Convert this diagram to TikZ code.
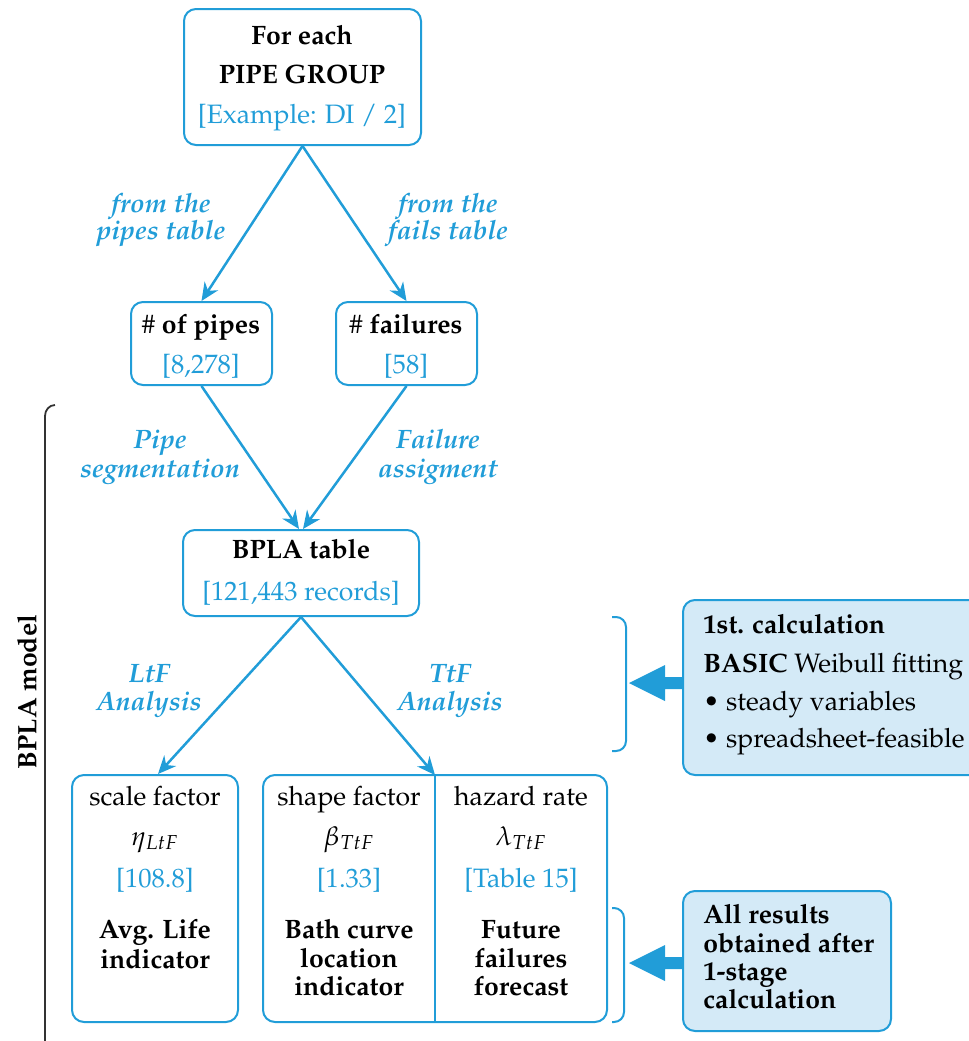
\documentclass[tikz,border=0pt]{standalone}
\usepackage[T1]{fontenc}
\usepackage{mathpazo}
\usetikzlibrary{arrows.meta,fit}
\definecolor{mblue}{RGB}{33,157,216}
\definecolor{lblue}{RGB}{212,234,247}
\definecolor{bracecol}{RGB}{50,50,50}
\begin{document}
\begin{tikzpicture}[x=0.5pt,y=-0.5pt,
  box/.style={draw=mblue, line width=1pt, rounded corners=6pt, inner sep=0pt},
  infobox/.style={box, fill=lblue},
  txt/.style={anchor=base, inner sep=0pt, font=\fontsize{13.3}{15}\selectfont},
  btxt/.style={txt, font=\fontsize{13.3}{15}\selectfont\bfseries},
  vtxt/.style={txt, text=mblue},
  ltxt/.style={txt, anchor=base west},
  bltxt/.style={btxt, anchor=base west},
  lbl/.style={txt, text=mblue, font=\fontsize{13.3}{15}\selectfont\bfseries\itshape},
  conn/.style={draw=mblue, line width=1.25pt, -{Stealth[length=9pt,width=8pt]}},
  bracket/.style={draw=mblue, line width=1pt, rounded corners=5pt},
  blockarrow/.style={fill=mblue, draw=none}]
\useasboundingbox (0,0) rectangle (969,1041);
\clip (0,0) rectangle (969,1041);

% boxes
\node[box, fit={(184,9) (421,145)}] (top) {};
\node[box, fit={(131,302) (272,385)}] (pipes) {};
\node[box, fit={(336,302) (477,385)}] (fails) {};
\node[box, fit={(183,530) (419,616)}] (bpla) {};
\node[box, fit={(72,775) (238,1022)}] (scale) {};
\node[box, fit={(263,775) (607,1022)}] (shapehaz) {};
\coordinate (divtop) at (435,775);
\coordinate (divbot) at (435,1022);
\draw[draw=mblue, line width=1pt] (divtop) -- (divbot);
\node[infobox, fit={(683,600) (1000,775)}] (calc1) {};
\node[infobox, fit={(683,891) (891,1031)}] (calc2) {};

% texts in boxes
\node[btxt] (t1) at (302,44) {For each};
\node[btxt] (t2) at (302,83) {PIPE GROUP};
\node[vtxt] (t3) at (302,123) {[Example: DI / 2]};

\node[txt] (p1) at (201,333) {\# \textbf{of pipes}};
\node[vtxt] (p2) at (201,373) {[8,278]};
\node[txt] (f1) at (406,333) {\# \textbf{failures}};
\node[vtxt] (f2) at (406,373) {[58]};

\node[btxt] (b1) at (301,558) {BPLA table};
\node[vtxt] (b2) at (301,600) {[121,443 records]};

\node[txt] (s1) at (155,805) {scale factor};
\node[txt] (s2) at (155,845) {$\eta_{LtF}$};
\node[vtxt] (s3) at (155,887) {[108.8]};
\node[btxt] (s4) at (155,938) {Avg. Life};
\node[btxt] (s5) at (155,968) {indicator};

\node[txt] (h1) at (349,805) {shape factor};
\node[txt] (h2) at (349,845) {$\beta_{TtF}$};
\node[vtxt] (h3) at (349,887) {[1.33]};
\node[btxt] (h4) at (349,938) {Bath curve};
\node[btxt] (h5) at (349,967) {location};
\node[btxt] (h6) at (349,995) {indicator};

\node[txt] (z1) at (521,805) {hazard rate};
\node[txt] (z2) at (521,845) {$\lambda_{TtF}$};
\node[vtxt] (z3) at (521,887) {[Table 15]};
\node[btxt] (z4) at (521,938) {Future};
\node[btxt] (z5) at (521,967) {failures};
\node[btxt] (z6) at (521,995) {forecast};

\node[bltxt] (c1) at (703,633) {1st. calculation};
\node[ltxt] (c2) at (703,672) {\textbf{BASIC} Weibull fitting};
\node[ltxt] (c3) at (703,710) {\textbullet{} steady variables};
\node[ltxt] (c4) at (703,747) {\textbullet{} spreadsheet-feasible};

\node[bltxt] (d1) at (703,923) {All results};
\node[bltxt] (d2) at (703,952) {obtained after};
\node[bltxt] (d3) at (703,980) {1-stage};
\node[bltxt] (d4) at (703,1008) {calculation};

% connector labels
\node[lbl] (l1a) at (161,212) {from the};
\node[lbl] (l1b) at (161,239) {pipes table};
\node[lbl] (l2a) at (448,212) {from the};
\node[lbl] (l2b) at (448,239) {fails table};
\node[lbl] (l3a) at (160,448) {Pipe};
\node[lbl] (l3b) at (160,477) {segmentation};
\node[lbl] (l4a) at (438,448) {Failure};
\node[lbl] (l4b) at (438,477) {assigment};
\node[lbl] (l5a) at (149,682) {LtF};
\node[lbl] (l5b) at (149,710) {Analysis};
\node[lbl] (l6a) at (450,682) {TtF};
\node[lbl] (l6b) at (450,710) {Analysis};

% connectors
\draw[conn] (top.south) -- (pipes.north);
\draw[conn] (top.south) -- (fails.north);
\draw[conn] (pipes.south) -- ([xshift=-1pt]bpla.north);
\draw[conn] (fails.south) -- ([xshift=1pt]bpla.north);
\draw[conn] (bpla.south) -- ([xshift=1.5pt]scale.north);
\draw[conn] (bpla.south) -- (divtop);

% right brackets
\draw[bracket] (612,617) -- (626,617) -- (626,751) -- (612,751);
\draw[bracket] (612,908) -- (624,908) -- (624,1022) -- (612,1022);

% block arrows
\fill[blockarrow] (629,683) -- (665,665) -- (665,677) -- (683,677) -- (683,689) -- (665,689) -- (665,701) -- cycle;
\fill[blockarrow] (629,963) -- (665,945) -- (665,957) -- (683,957) -- (683,969) -- (665,969) -- (665,981) -- cycle;

% left brace
\draw[draw=bracecol, line width=0.9pt] (45,1045) -- (45,416) to[out=90,in=180] (55,405);
\node[btxt, anchor=center, rotate=90] (model) at (27,692) {BPLA model};
\end{tikzpicture}
\end{document}
